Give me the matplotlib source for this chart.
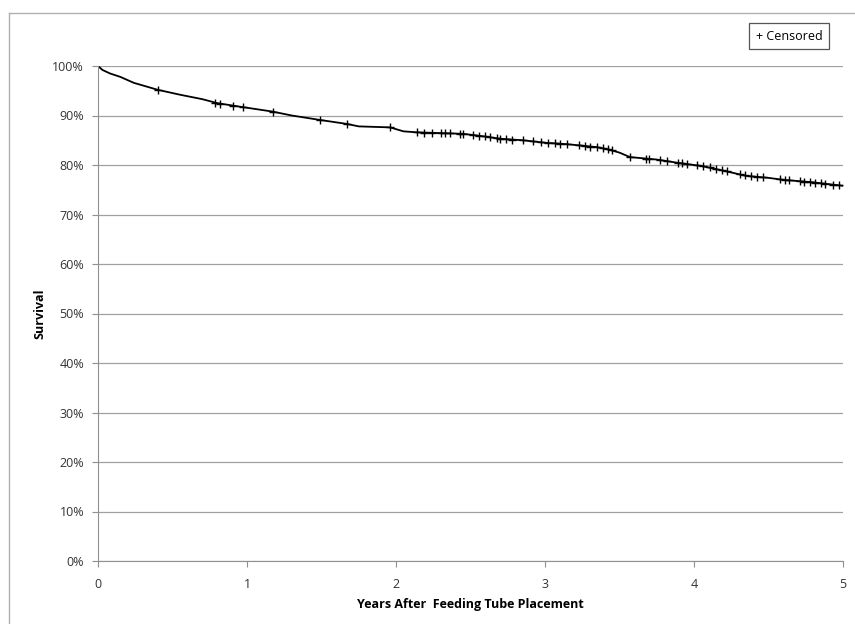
import numpy as np
import matplotlib.pyplot as plt
from matplotlib.lines import Line2D

plt.rcParams['font.family'] = ['Open Sans', 'DejaVu Sans']

# survival curve (years, %)
years = [0, 0.03, 0.08, 0.15, 0.24, 0.40, 0.55, 0.70, 0.80, 0.97, 1.17, 1.30,
         1.49, 1.67, 1.75, 1.96, 2.05, 2.14, 2.45, 2.56, 2.70, 2.85, 3.00,
         3.15, 3.35, 3.43, 3.50, 3.57, 3.75, 3.90, 4.05, 4.22, 4.35, 4.50,
         4.60, 4.80, 5.00]
survival = [100, 99.2, 98.5, 97.8, 96.6, 95.2, 94.2, 93.3, 92.5, 91.7, 90.8,
            90.0, 89.1, 88.3, 87.8, 87.6, 86.8, 86.6, 86.3, 85.9, 85.3, 85.0,
            84.5, 84.2, 83.6, 83.1, 82.5, 81.6, 81.1, 80.4, 79.8, 78.7, 77.8,
            77.4, 77.0, 76.5, 75.8]

# censored observations
cens_years = [0.40, 0.785, 0.82, 0.906, 0.973, 1.174, 1.49, 1.67, 1.96, 2.14,
              2.19, 2.24, 2.30, 2.33, 2.36, 2.43, 2.45, 2.52, 2.56, 2.60, 2.63,
              2.68, 2.70, 2.74, 2.78, 2.85, 2.92, 2.97, 3.02, 3.07, 3.10, 3.15,
              3.23, 3.27, 3.30, 3.35, 3.39, 3.42, 3.45, 3.57, 3.68, 3.70, 3.77,
              3.82, 3.89, 3.92, 3.95, 4.02, 4.06, 4.11, 4.15, 4.19, 4.22, 4.31,
              4.34, 4.38, 4.42, 4.46, 4.58, 4.61, 4.64, 4.71, 4.74, 4.78, 4.81,
              4.85, 4.88, 4.93, 4.97]
cens_surv = [95.2, 92.6, 92.4, 91.9, 91.7, 90.8, 89.1, 88.3, 87.6, 86.6,
             86.5, 86.5, 86.4, 86.4, 86.4, 86.3, 86.3, 86.0, 85.9, 85.8, 85.6,
             85.4, 85.3, 85.2, 85.1, 85.0, 84.8, 84.6, 84.5, 84.4, 84.3, 84.2,
             84.0, 83.8, 83.7, 83.6, 83.4, 83.2, 83.0, 81.6, 81.3, 81.3, 81.0,
             80.8, 80.5, 80.4, 80.2, 79.9, 79.8, 79.5, 79.2, 78.9, 78.7, 78.1,
             77.9, 77.7, 77.6, 77.5, 77.1, 77.0, 76.9, 76.7, 76.6, 76.5, 76.4,
             76.3, 76.2, 76.0, 75.9]

yticks = np.arange(0, 101, 10)
xticks = [0, 1, 2, 3, 4, 5]

fig = plt.figure(figsize=(8.55, 6.24), dpi=100)
ax = fig.add_axes([98/855, 1 - 561/624, 745/855, 495/624])

ax.plot(years, survival, color='black', lw=1.3)
ax.plot(cens_years, cens_surv, ls='none', marker='+', ms=6, mew=1, color='black')

ax.set_xlim(0, 5)
ax.set_ylim(0, 100)
ax.set_yticks(yticks)
ax.set_yticklabels([f'{v}%' for v in yticks])
ax.set_xticks(xticks)
ax.grid(axis='y', color='#a0a0a0', lw=0.9)
ax.set_axisbelow(True)
for s in ['top', 'right']:
    ax.spines[s].set_visible(False)
for s in ['left', 'bottom']:
    ax.spines[s].set_color('#909090')
ax.tick_params(axis='both', colors='#909090', labelcolor='#333333', labelsize=9, length=4)
ax.tick_params(axis='x', pad=8)
ax.tick_params(axis='y', pad=6)

ax.set_ylabel('Survival', fontsize=9, fontweight='bold', labelpad=4)
ax.set_xlabel('Years After  Feeding Tube Placement', fontsize=9, fontweight='bold', labelpad=5)

fig.text(789/855, 1 - 36/624, '+ Censored', fontsize=9, ha='center', va='center',
         bbox=dict(boxstyle='square,pad=0.55', fc='white', ec='#555555', lw=0.9))

# outer chart border
fig.add_artist(Line2D([9/855, 9/855], [0, 1 - 13/624], color='#b0b0b0', lw=1))
fig.add_artist(Line2D([9/855, 1], [1 - 13/624, 1 - 13/624], color='#b0b0b0', lw=1))

fig.savefig('out.png', dpi=100)
